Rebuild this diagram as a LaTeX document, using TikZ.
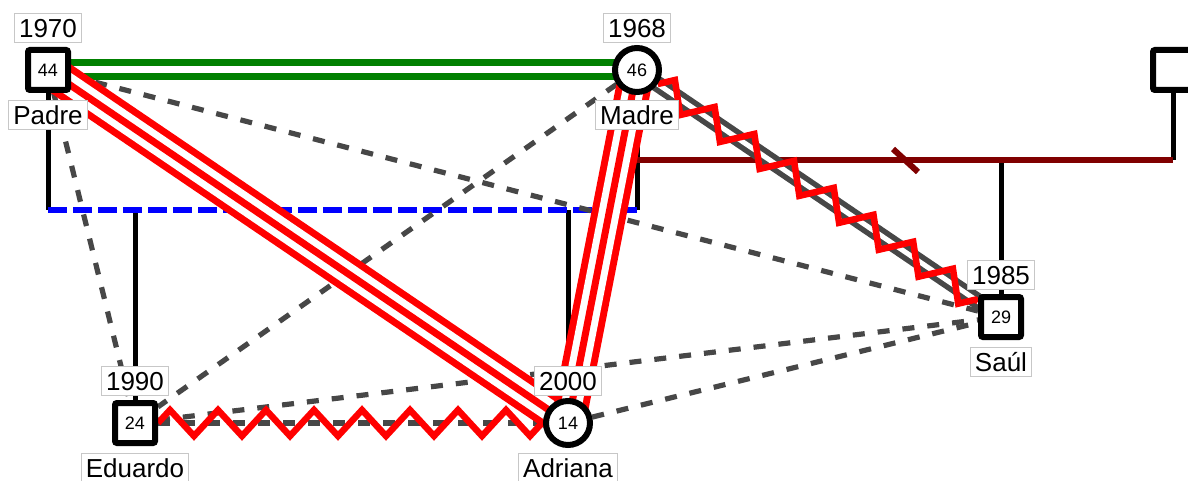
\documentclass[tikz,border=0pt]{standalone}
\usepackage{fontspec}
\setmainfont{Liberation Sans}
\usetikzlibrary{positioning,decorations.pathmorphing,backgrounds}

\tikzset{
  hombre/.style={draw, fill=white, line width=3pt, rounded corners=1pt,
    minimum size=20pt, inner sep=0pt, font=\fontsize{9}{9}\selectfont},
  mujer/.style={draw, fill=white, circle, line width=3pt,
    minimum size=22pt, inner sep=0pt, font=\fontsize{9}{9}\selectfont},
  etiqueta/.style={draw=black!22, fill=white, line width=0.5pt,
    inner xsep=2.2pt, inner ysep=2.4pt, text height=9.5pt, text depth=0pt,
    font=\fontsize{13}{13}\selectfont},
  hijo/.style={line width=2.5pt},
  union/.style={blue, line width=3pt, dash pattern=on 9.5pt off 3pt},
  separados/.style={red!50!black, line width=3pt},
  distante/.style={black!72, line width=2.6pt, dash pattern=on 6pt off 6.5pt},
  cercano/.style={black!72, line width=2.75pt, double=white, double distance=2.5pt},
  armonia/.style={green!50!black, line width=3.5pt, double=white, double distance=3.5pt},
  fusion/.style={red, line width=17.5pt,
    postaction={draw=white, line width=10.5pt},
    postaction={draw=red, line width=3.5pt}},
  hostil/.style={red, line width=3.25pt, decorate,
    decoration={zigzag, segment length=24pt, amplitude=6.5pt}}
}

\begin{document}
\begin{tikzpicture}[x=0.5pt,y=-0.5pt]
  \useasboundingbox (0,0) rectangle (1188,481);

  % personas
  \node[hombre] (padre) at (48,70) {44};
  \node[mujer] (madre) at (637,70) {46};
  \node[hombre] (pareja) at (1173,70) {};
  \node[hombre] (saul) at (1001,317) {29};
  \node[hombre] (eduardo) at (135,423) {24};
  \node[mujer] (adriana) at (568,423) {14};

  % años y nombres
  \foreach \p/\anio/\nom in {padre/1970/Padre, madre/1968/Madre, saul/1985/Saúl,
      eduardo/1990/Eduardo, adriana/2000/Adriana}{
    \node[etiqueta, above=13.5pt of \p.center] (\p-anio) {\anio};
    \node[etiqueta, below=15pt of \p.center] (\p-nom) {\nom};}

  \coordinate (hogar) at (0,210);
  \coordinate (segunda) at (0,160);

  \begin{scope}[on background layer]
    % lineas de familia
    \draw[hijo] (padre) -- (padre |- hogar);
    \draw[hijo] (madre) -- (madre |- hogar);
    \draw[hijo] (eduardo) -- (eduardo |- hogar);
    \draw[hijo] (adriana) -- (adriana |- hogar);
    \draw[hijo] (saul) -- (saul |- segunda);
    \draw[hijo] (pareja) -- (pareja |- segunda);
    \draw[union] (padre |- hogar) -- (madre |- hogar);
    \draw[separados] (madre |- segunda) -- (pareja |- segunda);
    \draw[separados] (893,149) -- (918,172);

    % relaciones
    \draw[distante] (padre) -- (saul);
    \draw[distante] (padre) -- (eduardo);
    \draw[distante] (madre) -- (eduardo);
    \draw[distante] (eduardo) -- (saul);
    \draw[distante] (adriana) -- (saul);
    \draw[distante] (eduardo) -- (adriana);
    \draw[cercano] (madre.center) -- (saul.center);
    \draw[armonia] (padre.center) -- (madre.center);
    \draw[fusion] (padre.center) -- (adriana.center);
    \draw[fusion] (madre.center) -- (adriana.center);
    \draw[hostil] (madre) -- (saul);
    \draw[hostil] (eduardo) -- (adriana);
  \end{scope}
\end{tikzpicture}
\end{document}
